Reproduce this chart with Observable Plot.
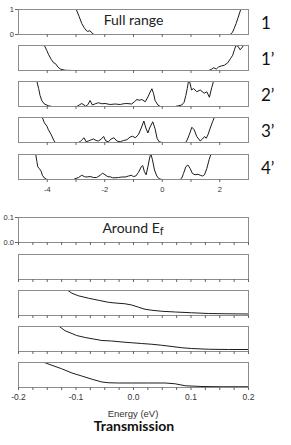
<!DOCTYPE html>
<html><head><meta charset="utf-8">
<script src="https://cdn.jsdelivr.net/npm/d3@7"></script>
<script src="https://cdn.jsdelivr.net/npm/@observablehq/plot@0.6"></script>
<style>
body{margin:0;background:#fff;}
#chart{position:relative;width:291px;height:445px;overflow:hidden;background:#fff;}
</style></head><body><div id="chart"></div>
<script>
// ---- tick values / labels ----
const fullTicks = [-4, -3, -2, -1, 0, 1, 2];
const fullTickLabels = [-4, -2, 0, 2];
const aroundTicks = [-0.2, -0.175, -0.15, -0.125, -0.1, -0.075, -0.05, -0.025, 0, 0.025, 0.05, 0.075, 0.1, 0.125, 0.15, 0.175, 0.2];
const aroundTickLabels = [-0.2, -0.1, 0, 0.1, 0.2];
const panelNames = ["1", "1’", "2’", "3’", "4’"];

// ---- Full range transmission (energy eV, transmission) ----
const e1 = [-3.03, -2.99, -2.89, -2.80, -2.72, -2.65, -2.59, -2.54, -2.48, -2.43, -2.37, 2.36, 2.44, 2.50, 2.57, 2.63, 2.69, 2.73, 2.77];
const t1 = [1.07, 1.00, 0.72, 0.44, 0.28, 0.17, 0.12, 0.15, 0.12, 0.04, 0, 0, 0.08, 0.24, 0.44, 0.65, 0.86, 1.0, 1.1];

const e1p = [-4.12, -4.10, -4.01, -3.96, -3.86, -3.78, -3.72, -3.68, -3.63, -3.55, -3.38, -3.09, 1.61, 1.70, 1.79, 1.88, 1.96, 2.05, 2.16, 2.28, 2.37, 2.45, 2.51, 2.56, 2.63, 2.71, 2.79, 2.85];
const t1p = [1.07, 1.00, 0.79, 0.65, 0.44, 0.31, 0.28, 0.22, 0.14, 0.06, 0.01, 0, 0, 0.04, 0.11, 0.06, 0.14, 0.18, 0.21, 0.31, 0.47, 0.61, 0.83, 1.0, 0.97, 0.83, 0.94, 1.07];

const e2p = [-4.39, -4.36, -4.30, -4.25, -4.19, -4.10, -3.96, -3.84,
  -2.97, -2.89, -2.80, -2.72, -2.66, -2.59, -2.51, -2.43, -2.33, -2.22, -2.10, -1.99, -1.81, -1.64, -1.46, -1.35, -1.23, -1.06, -0.97, -0.88, -0.80, -0.71, -0.59, -0.50, -0.42, -0.36, -0.30, -0.25, -0.15, -0.07,
  0.45, 0.56, 0.68, 0.76, 0.82, 0.87, 0.91, 0.94, 1.02, 1.09, 1.20, 1.32, 1.46, 1.55, 1.64, 1.72, 1.78, 1.82];
const t2p = [1.07, 1.0, 0.72, 0.44, 0.24, 0.10, 0.03, 0,
  0, 0.06, 0.12, 0.06, 0.01, 0.07, 0.24, 0.06, 0.11, 0.15, 0.11, 0.12, 0.08, 0.10, 0.08, 0.11, 0.12, 0.10, 0.19, 0.28, 0.25, 0.28, 0.19, 0.38, 0.58, 0.71, 0.51, 0.24, 0.06, 0,
  0, 0.03, 0.06, 0.17, 0.44, 0.72, 1.0, 1.05, 0.66, 0.72, 0.59, 0.66, 0.53, 0.59, 0.37, 0.75, 1.0, 1.1];

const e3p = [-4.19, -4.17, -4.10, -4.01, -3.96, -3.86, -3.78, -3.72,
  -2.91, -2.86, -2.80, -2.72, -2.65, -2.57, -2.47, -2.39, -2.30, -2.22, -2.12, -2.04, -1.96, -1.87, -1.78, -1.68, -1.58, -1.46, -1.35, -1.23, -1.12, -1.03, -0.94, -0.83, -0.73, -0.64, -0.57, -0.50, -0.44, -0.33, -0.25, -0.18, -0.11, -0.01,
  0.80, 0.85, 0.94, 1.03, 1.11, 1.20, 1.32, 1.40, 1.47, 1.53, 1.59, 1.67, 1.75, 1.81, 1.84];
const t3p = [1.07, 1.0, 0.79, 0.65, 0.51, 0.31, 0.10, 0,
  0, 0.03, 0.10, 0.19, 0.03, 0.06, 0.11, 0.14, 0.08, 0.06, 0.14, 0.24, 0.06, 0.03, 0.14, 0.19, 0.06, 0.03, 0.08, 0.11, 0.22, 0.25, 0.19, 0.31, 0.58, 0.86, 0.58, 0.38, 0.58, 0.83, 0.55, 0.17, 0.03, 0,
  0, 0.06, 0.31, 0.61, 0.51, 0.24, 0.06, 0.14, 0.24, 0.17, 0.31, 0.58, 0.83, 1.0, 1.07];

const e4p = [-4.42, -4.40, -4.36, -4.33, -4.28, -4.21, -4.17, -4.10, -4.01,
  -3.09, -3.03, -2.91, -2.80, -2.70, -2.62, -2.51, -2.39, -2.28, -2.16, -2.08, -1.99, -1.89, -1.81, -1.73, -1.64, -1.52, -1.41, -1.29, -1.17, -1.08, -1.00, -0.92, -0.83, -0.73, -0.68, -0.62, -0.56, -0.50, -0.44, -0.40, -0.34, -0.27, -0.19, -0.11, -0.01,
  0.62, 0.68, 0.74, 0.82, 0.89, 0.97, 1.05, 1.14, 1.24, 1.32, 1.40, 1.47, 1.55, 1.63, 1.69, 1.72];
const t4p = [1.07, 1.0, 0.72, 0.51, 0.44, 0.33, 0.17, 0.06, 0,
  0, 0.03, 0.08, 0.17, 0.11, 0.10, 0.12, 0.08, 0.08, 0.17, 0.25, 0.19, 0.11, 0.11, 0.07, 0.07, 0.08, 0.10, 0.10, 0.14, 0.17, 0.12, 0.14, 0.28, 0.51, 0.56, 0.31, 0.19, 0.51, 0.86, 1.03, 0.79, 0.38, 0.14, 0.03, 0,
  0, 0.06, 0.24, 0.51, 0.58, 0.44, 0.24, 0.19, 0.21, 0.17, 0.14, 0.19, 0.44, 0.79, 1.0, 1.07];

// ---- Around Ef transmission ----
const a1E = [-0.2, 0.2], a1T = [0, 0];
const a2E = [-0.2, 0.2], a2T = [0, 0];
const a3E = [-0.116, -0.114, -0.107, -0.096, -0.078, -0.061, -0.044, -0.032, -0.015, -0.003, 0.009, 0.020, 0.032, 0.049, 0.073, 0.101, 0.130, 0.159, 0.2];
const a3T = [0.102, 0.100, 0.089, 0.079, 0.069, 0.061, 0.053, 0.050, 0.047, 0.042, 0.033, 0.025, 0.021, 0.017, 0.014, 0.011, 0.008, 0.007, 0.006];
const a4E = [-0.131, -0.129, -0.119, -0.107, -0.099, -0.084, -0.067, -0.055, -0.038, -0.020, -0.003, 0.014, 0.032, 0.049, 0.067, 0.084, 0.101, 0.130, 0.165, 0.2];
const a4T = [0.102, 0.100, 0.083, 0.072, 0.064, 0.056, 0.049, 0.044, 0.042, 0.038, 0.035, 0.032, 0.029, 0.025, 0.020, 0.015, 0.012, 0.009, 0.008, 0.008];
const a5E = [-0.157, -0.155, -0.142, -0.125, -0.107, -0.090, -0.072, -0.055, -0.043, -0.026, -0.003, 0.026, 0.055, 0.072, 0.090, 0.119, 0.154, 0.2];
const a5T = [0.102, 0.100, 0.089, 0.075, 0.058, 0.046, 0.033, 0.022, 0.019, 0.018, 0.018, 0.018, 0.018, 0.015, 0.007, 0.004, 0.003, 0.003];

const chart = document.getElementById("chart");
const FONT = "'Liberation Sans', Arial, sans-serif";

function addPanel({E, T, full, top, name, yAxis, xAxis, extraBottom = 0, title}) {
  const mt = 3, fh = 25;
  const mb = (xAxis ? 16 : 5) + extraBottom;
  const data = E.map((e, i) => ({e, t: T[i]}));
  const fmt = full ? (d => String(d)) : (d => d.toFixed(1));
  const marks = [
    Plot.line(data, {x: "e", y: "t", stroke: "#1c1c1c", strokeWidth: 1, clip: true}),
    Plot.frame({stroke: "#8c8c8c", strokeWidth: 1}),
    Plot.axisX({ticks: full ? fullTicks : aroundTicks, tickSize: 3, fill: "none", stroke: "#666", label: null})
  ];
  if (xAxis) marks.push(Plot.axisX({ticks: full ? fullTickLabels : aroundTickLabels, tickSize: 0,
    tickPadding: full ? 7 : 6.5, fontSize: full ? 7.5 : 8.5, fill: "#333", label: null, tickFormat: fmt}));
  if (yAxis) marks.push(Plot.axisY({ticks: full ? [0, 1] : [0, 0.1], tickSize: 3, tickPadding: 1.5,
    fontSize: 7.5, fill: "#333", stroke: "#666", label: null, tickFormat: fmt}));
  if (name) marks.push(Plot.text([name], {text: d => d, frameAnchor: "right", textAnchor: "start",
    dx: 12.5, dy: 1.5, fontSize: 17, fontFamily: "Lato", fill: "#111"}));
  if (title) marks.push(Plot.text([title], {text: d => d, frameAnchor: "middle", dy: -1,
    fontSize: 14, fontFamily: "Lato", fill: "#222"}));
  const yOpts = {domain: full ? [0, 1] : [0, 0.1]};
  if (!yAxis) yOpts.axis = null;
  const svg = Plot.plot({
    width: 291, height: mt + fh + mb,
    marginTop: mt, marginBottom: mb, marginLeft: 18, marginRight: 43,
    x: {domain: full ? [-5, 3] : [-0.2, 0.2]},
    y: yOpts,
    style: {background: "transparent", fontFamily: FONT, overflow: "visible"},
    marks
  });
  svg.style.position = "absolute";
  svg.style.left = "0px";
  svg.style.top = (top - mt) + "px";
  chart.appendChild(svg);
  return {svg, svgTop: top - mt};
}

const fullSeries = [[e1, t1], [e1p, t1p], [e2p, t2p], [e3p, t3p], [e4p, t4p]];
const fullTops = [9, 45, 81, 117, 154];
fullSeries.forEach(([E, T], i) => addPanel({
  E, T, full: true, top: fullTops[i], name: panelNames[i],
  yAxis: i === 0, xAxis: i === fullSeries.length - 1, title: i === 0 ? "Full range" : null
}));

const aroundSeries = [[a1E, a1T], [a2E, a2T], [a3E, a3T], [a4E, a4T], [a5E, a5T]];
const aroundTops = [217, 254, 290, 326, 362];
const aroundPanels = aroundSeries.map(([E, T], i) => addPanel({
  E, T, full: false, top: aroundTops[i], yAxis: i === 0,
  xAxis: i === aroundSeries.length - 1, extraBottom: i === aroundSeries.length - 1 ? 34 : 0
}));

// "Around Ef" title with subscript
{
  const {svg, svgTop} = aroundPanels[0];
  const t = d3.select(svg).append("text")
    .attr("x", 133).attr("y", 232.5 - svgTop)
    .attr("text-anchor", "middle").attr("font-family", "Lato")
    .attr("font-size", 14).attr("fill", "#222").text("Around E");
  t.append("tspan").attr("dy", 2.5).attr("font-size", 11).text("f");
}
// axis title and caption
{
  const {svg, svgTop} = aroundPanels[4];
  d3.select(svg).append("text")
    .attr("x", 133).attr("y", 416.5 - svgTop)
    .attr("text-anchor", "middle").attr("font-family", FONT)
    .attr("font-size", 9.5).attr("fill", "#333").text("Energy (eV)");
  d3.select(svg).append("text")
    .attr("x", 134).attr("y", 431 - svgTop)
    .attr("text-anchor", "middle").attr("font-family", "Lato").attr("font-weight", "bold")
    .attr("font-size", 14).attr("fill", "#111").text("Transmission");
}
</script></body></html>
